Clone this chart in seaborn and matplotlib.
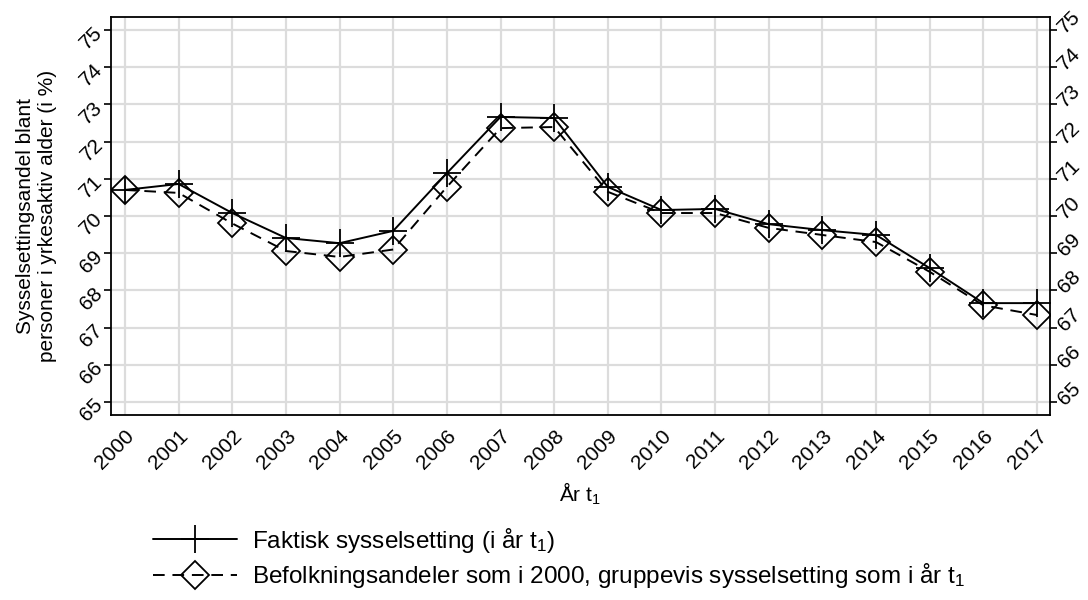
import matplotlib
matplotlib.use("Agg")
from matplotlib import pyplot as plt
import pandas as pd
import seaborn as sns

years = list(range(2000, 2018))
faktisk = [70.70, 70.86, 70.08, 69.41, 69.27, 69.60, 71.15, 72.66, 72.63, 70.78,
           70.16, 70.19, 69.78, 69.62, 69.49, 68.60, 67.66, 67.66]
befolkning = [70.70, 70.62, 69.80, 69.06, 68.90, 69.10, 70.78, 72.36, 72.39, 70.65,
              70.08, 70.08, 69.68, 69.49, 69.30, 68.50, 67.60, 67.34]
y_ticks = list(range(65, 76))

label_faktisk = "Faktisk sysselsetting (i år t$_1$)"
label_befolk = "Befolkningsandeler som i 2000, gruppevis sysselsetting som i år t$_1$"


def main():
    sns.set_style("white")
    plt.rcParams["font.family"] = ["Liberation Sans", "DejaVu Sans"]
    plt.rcParams["mathtext.fontset"] = "custom"
    plt.rcParams["mathtext.rm"] = "Liberation Sans"
    plt.rcParams["mathtext.it"] = "Liberation Sans"
    plt.rcParams["text.color"] = "black"
    plt.rcParams["axes.labelcolor"] = "black"
    plt.rcParams["xtick.color"] = "black"
    plt.rcParams["ytick.color"] = "black"

    df = pd.DataFrame({"year": years, "faktisk": faktisk, "befolkning": befolkning})

    fig = plt.figure(figsize=(10.88, 6), dpi=100)
    ax = fig.add_axes([0.102, 0.308, 0.863, 0.664])

    sns.lineplot(data=df, x="year", y="faktisk", ax=ax, color="black", linewidth=1.4,
                 marker="+", markersize=20, markeredgecolor="black", markeredgewidth=1.3,
                 label=label_faktisk)
    sns.lineplot(data=df, x="year", y="befolkning", ax=ax, color="black", linewidth=1.4,
                 linestyle=(0, (6, 4)), marker="D", markersize=14, markerfacecolor="none",
                 markeredgecolor="black", markeredgewidth=1.3, label=label_befolk)

    ax.set_xlim(1999.74, 2017.24)
    ax.set_ylim(64.65, 75.35)
    ax.set_xticks(years)
    ax.set_yticks(y_ticks)
    ax.set_xticklabels([str(y) for y in years], rotation=45, ha="right",
                       rotation_mode="anchor", fontsize=15)
    ax.set_yticklabels([str(v) for v in y_ticks], rotation=45, ha="right",
                       va="center", rotation_mode="anchor", fontsize=15)
    ax.grid(True, color="#dcdcdc", linewidth=1.6)
    ax.set_axisbelow(True)
    for s in ax.spines.values():
        s.set_color("black")
        s.set_linewidth(1.3)
    ax.tick_params(axis="both", direction="out", length=5, width=1.2, color="black", pad=3)

    ax2 = ax.twinx()
    ax2.set_ylim(ax.get_ylim())
    ax2.set_yticks(y_ticks)
    ax2.set_yticklabels([str(v) for v in y_ticks], rotation=45, ha="left",
                        va="center", rotation_mode="anchor", fontsize=15)
    ax2.tick_params(axis="y", direction="out", length=5, width=1.2, color="black", pad=3)
    for s in ax2.spines.values():
        s.set_visible(False)

    ax.set_xlabel("År t$_1$", fontsize=15, labelpad=6)
    ax.set_ylabel("Sysselsettingsandel blant\npersoner i yrkesaktiv alder (i %)",
                  fontsize=15)
    ax.yaxis.set_label_coords(-0.058, 0.5)

    handles, labels = ax.get_legend_handles_labels()
    ax.get_legend().remove()
    fig.legend(handles, labels, loc="upper left", bbox_to_anchor=(0.1315, 0.14),
               frameon=False, fontsize=17.5, handlelength=3.45, handletextpad=0.64,
               labelspacing=0.27, borderaxespad=0)

    fig.savefig("out.png", dpi=100)


if __name__ == "__main__":
    main()
